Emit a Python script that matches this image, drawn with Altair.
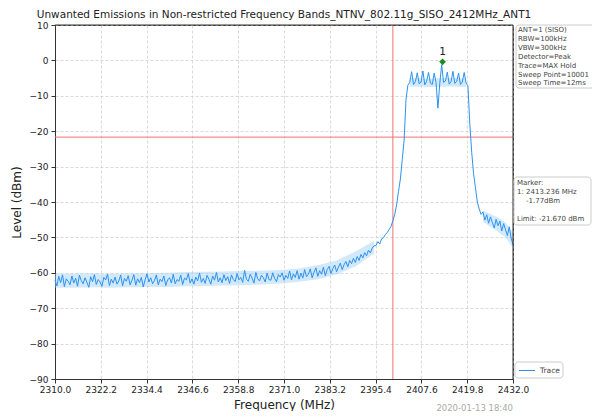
import altair as alt
import pandas as pd

# ---- data ----
f_start = 2310.0
f_step = 0.5
levels = [
    # 2310 - 2340
    -62.1, -63.7, -61.0, -62.8, -60.6, -63.9, -61.7, -62.4, -63.4, -60.9,
    -62.9, -61.5, -63.8, -60.7, -62.2, -63.1, -61.4, -62.7, -64.1, -61.1,
    -62.5, -60.5, -63.3, -61.9, -62.6, -63.8, -61.3, -62.0, -60.4, -63.6,
    -61.8, -62.9, -61.2, -63.2, -62.3, -60.6, -63.7, -61.6, -62.4, -60.8,
    -63.4, -62.1, -60.5, -63.5, -61.7, -62.8, -61.3, -64.0, -62.0, -60.3,
    -62.6, -61.4, -63.1, -62.2, -60.6, -63.4, -61.8, -62.5, -60.9, -63.6,
    -62.0,
    # 2340.5 - 2370
    -61.4, -62.9, -60.4, -63.1, -61.9, -62.4, -60.6, -63.3, -61.5, -62.0,
    -60.2, -62.9, -61.7, -63.2, -61.2, -62.3, -60.1, -62.7, -61.6, -63.0,
    -60.7, -61.8, -63.2, -60.9, -62.1, -59.9, -62.6, -61.4, -62.8, -60.5,
    -62.2, -61.1, -63.0, -60.6, -61.9, -62.5, -60.2, -62.0, -61.3, -62.7,
    -59.3, -61.8, -62.4, -60.4, -61.5, -62.9, -59.9, -61.7, -62.3, -60.7,
    -61.4, -62.6, -60.1, -61.9, -62.1, -60.0, -61.6, -62.5, -60.5, -61.2,
    # 2370.5 - 2385
    -60.0, -62.1, -60.7, -61.6, -59.5, -62.0, -60.3, -61.3, -59.4, -61.8,
    -60.1, -61.5, -59.1, -61.1, -60.4, -58.9, -61.4, -59.8, -58.6, -61.0,
    -59.4, -60.4, -58.4, -60.8, -59.1, -58.2, -60.2, -58.8, -57.8, -59.7,
    # 2385.5 - 2395
    -58.4, -57.3, -59.1, -57.7, -56.8, -58.3, -56.5, -57.4, -55.9, -57.1,
    -55.4, -56.5, -54.8, -55.8, -54.3, -55.2, -53.6, -54.4, -53.0, -52.4,
    # 2395.5 - 2400
    -52.3, -51.2, -51.9, -50.4, -50.1, -49.2, -48.6, -47.8, -46.9, -45.3,
    # 2400.5 - 2404
    -43.5, -40.8, -37.0, -33.5, -28.0, -22.5, -11.0, -7.0,
    # 2404.5 - 2420
    -6.2, -3.2, -6.8, -6.0, -3.5, -6.6, -6.1, -3.0, -6.9, -5.9,
    -3.4, -6.4, -6.8, -3.6, -6.3, -13.5, -6.5, -1.2, -6.2, -5.8,
    -3.3, -6.7, -6.0, -3.1, -6.5, -5.9, -3.6, -6.8, -6.1, -3.4,
    -6.4, -7.2,
    # 2420.5 - 2423.5
    -18.0, -26.0, -32.0, -36.0, -40.0, -42.0, -43.5,
    # 2424 - 2432
    -42.8, -45.1, -43.6, -46.0, -44.2, -45.8, -47.3, -44.9, -46.7, -45.4,
    -48.2, -46.1, -47.8, -49.5, -47.0, -50.2, -52.0,
]
freqs = [round(f_start + f_step * i, 2) for i in range(len(levels))]

# max-hold noise envelope (lighter band around the trace)
env_seg = ["a"] * 18 + ["b"] * 4 + ["c"] * 5
env_freq = [2310, 2315, 2320, 2325, 2330, 2335, 2340, 2345, 2350, 2355, 2360, 2365, 2370,
            2375, 2380, 2385, 2390, 2395,
            2404.5, 2410, 2415, 2419.5,
            2424, 2426, 2428, 2430, 2432]
env_lo = [-64.2, -64.2, -64.1, -64.2, -64.1, -64.0, -64.0, -63.8, -63.7, -63.6, -63.5, -63.3, -63.0,
          -62.5, -61.8, -60.5, -58.2, -54.6,
          -7.4, -7.5, -7.4, -7.5,
          -45.6, -47.0, -48.4, -50.0, -53.0]
env_hi = [-60.3, -60.3, -60.2, -60.3, -60.2, -60.1, -60.0, -59.8, -59.7, -59.6, -59.5, -59.4, -59.2,
          -58.8, -57.9, -56.5, -54.0, -51.0,
          -5.0, -5.1, -5.0, -5.1,
          -42.4, -43.4, -44.4, -45.8, -48.6]

x_ticks = [2310.0, 2322.2, 2334.4, 2346.6, 2358.8, 2371.0, 2383.2, 2395.4, 2407.6, 2419.8, 2432.0]
y_ticks = [-90, -80, -70, -60, -50, -40, -30, -20, -10, 0, 10]

limit_level = [-21.67]
edge_freq = [2400.0]
marker_freq = [2413.236]
marker_level = [-0.4]
marker_label = ["1"]

title_text = "Unwanted Emissions in Non-restricted Frequency Bands_NTNV_802.11g_SISO_2412MHz_ANT1"
info_text = "ANT=1 (SISO)\nRBW=100kHz\nVBW=300kHz\nDetector=Peak\nTrace=MAX Hold\nSweep Point=10001\nSweep Time=12ms"
marker_text = "Marker:\n1: 2413.236 MHz"
marker_value_text = "-1.77dBm"
limit_text = "Limit: -21.670 dBm"
legend_text = "Trace"
date_text = "2020-01-13 18:40"

# ---- chart ----
FONT = "DejaVu Sans"
BLUE = "#2b93ee"
RED = "#f07272"
FRAME = "#333333"
W, H = 458, 354

xs = alt.Scale(domain=[2310, 2432], nice=False, zero=False)
ys = alt.Scale(domain=[-90, 10], nice=False, zero=False)

x_axis = alt.Axis(values=x_ticks, format=".1f", title="Frequency (MHz)", titlePadding=5,
                  labelPadding=2, labelFlush=False, tickCount=11)
y_axis = alt.Axis(values=y_ticks, format="d", title="Level (dBm)", titlePadding=6,
                  labelPadding=3, tickCount=11, labelOverlap=False)

trace_df = pd.DataFrame({"freq": freqs, "level": levels})
env_df = pd.DataFrame({"seg": env_seg, "freq": env_freq, "lo": env_lo, "hi": env_hi})
one = pd.DataFrame({"a": [0]})

envelope = alt.Chart(env_df).mark_area(color="#9ccbf6", opacity=0.45).encode(
    x=alt.X("freq:Q", scale=xs, axis=x_axis),
    y=alt.Y("lo:Q", scale=ys, axis=y_axis),
    y2="hi:Q",
    detail="seg:N",
)

trace = alt.Chart(trace_df).mark_line(color=BLUE, strokeWidth=1.0).encode(
    x=alt.X("freq:Q", scale=xs, axis=x_axis),
    y=alt.Y("level:Q", scale=ys, axis=y_axis),
)

hline = alt.Chart(pd.DataFrame({"level": limit_level})).mark_rule(color=RED, strokeWidth=1).encode(
    y=alt.Y("level:Q", scale=ys, axis=y_axis)
)
vline = alt.Chart(pd.DataFrame({"freq": edge_freq})).mark_rule(color=RED, strokeWidth=1).encode(
    x=alt.X("freq:Q", scale=xs, axis=x_axis)
)

mk_df = pd.DataFrame({"freq": marker_freq, "level": marker_level, "lab": marker_label})
mk_point = alt.Chart(mk_df).mark_point(shape="diamond", filled=True, color="#1c8a1c", size=45, opacity=1).encode(
    x=alt.X("freq:Q", scale=xs, axis=x_axis), y=alt.Y("level:Q", scale=ys, axis=y_axis)
)
mk_label = alt.Chart(mk_df).mark_text(dy=-10, fontSize=10.5, font=FONT, color="#222").encode(
    x=alt.X("freq:Q", scale=xs, axis=x_axis), y=alt.Y("level:Q", scale=ys, axis=y_axis), text="lab:N"
)

# solid frame edges drawn over the grid
frame_right = alt.Chart(one).mark_rule(color=FRAME, strokeWidth=1).encode(
    x=alt.value(W), y=alt.value(0), y2=alt.value(H)
)
frame_top = alt.Chart(one).mark_rule(color=FRAME, strokeWidth=1).encode(
    x=alt.value(0), x2=alt.value(W), y=alt.value(0)
)

def box(x1, x2, y1, y2):
    return alt.Chart(one).mark_rect(fill="white", stroke="#cccccc", strokeWidth=1, cornerRadius=3, clip=False).encode(
        x=alt.value(x1), x2=alt.value(x2), y=alt.value(y1), y2=alt.value(y2)
    )

def txt(s, x, y, size=7, color="#444", align="left", baseline="top"):
    return alt.Chart(one).mark_text(text=s, lineBreak="\n", lineHeight=8.9, fontSize=size, font=FONT,
                                    color=color, align=align, baseline=baseline).encode(
        x=alt.value(x), y=alt.value(y)
    )

box1 = box(461, 550, 0, 63)
info = txt(info_text, 463, 1)
box2 = box(459, 536, 152, 200)
mtxt = txt(marker_text, 462, 154)
mval = txt(marker_value_text, 471, 154 + 2 * 8.9)
ltxt = txt(limit_text, 462, 154 + 4 * 8.9)
box3 = box(460, 508, 337, 353)
leg_line = alt.Chart(one).mark_rule(color=BLUE, strokeWidth=1).encode(
    x=alt.value(464), x2=alt.value(480), y=alt.value(345.5)
)
leg_txt = txt(legend_text, 485, 345.5, size=7.5, baseline="middle")
date = txt(date_text, 458, 382.5, size=8.5, color="#aaaaaa", align="right", baseline="middle")

chart = alt.layer(
    envelope, hline, vline, trace, mk_point, mk_label, frame_right, frame_top,
    box1, info, box2, mtxt, mval, ltxt, box3, leg_line, leg_txt, date,
).properties(
    width=W, height=H,
    title=alt.TitleParams(text=title_text, fontSize=10.5, font=FONT, fontWeight="normal",
                          color="#222", offset=1, anchor="middle"),
    autosize=alt.AutoSizeParams(type="none"),
    padding={"left": 47, "top": 17, "right": 79, "bottom": 32},
).configure_view(
    stroke=FRAME, strokeWidth=1
).configure_axis(
    labelFont=FONT, titleFont=FONT, labelFontSize=9, titleFontSize=12, titleFontWeight="normal",
    labelColor="#222", titleColor="#222", domainColor=FRAME, tickColor=FRAME, tickSize=4,
    gridColor="#d0d0d0", gridDash=[3, 2], gridWidth=0.8,
)

chart.save("out.html", embed_options={"renderer": "svg", "actions": False})
